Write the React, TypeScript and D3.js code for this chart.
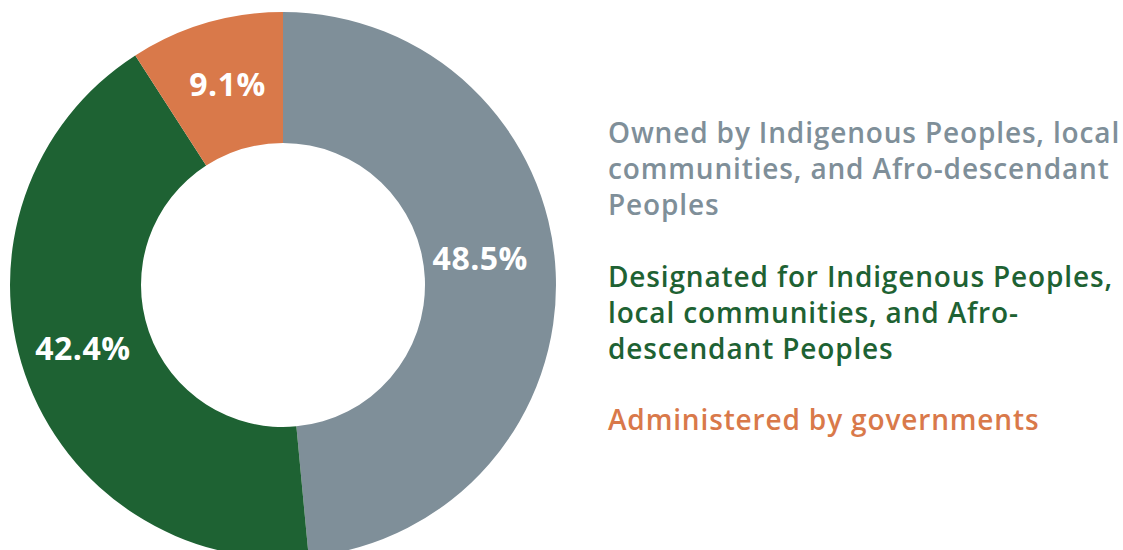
import { useEffect, useRef } from "react";
import * as d3 from "d3";

const categories = [
	["Owned by Indigenous Peoples, local", "communities, and Afro-descendant", "Peoples"],
	["Designated for Indigenous Peoples,", "local communities, and Afro-", "descendant Peoples"],
	["Administered by governments"],
];
const shares = [48.5, 42.4, 9.1];
const labels = ["48.5%", "42.4%", "9.1%"];
const colors = ["#7f8f99", "#1e6233", "#d9794a"];

export default function App() {
	const ref = useRef<SVGSVGElement>(null);

	useEffect(() => {
		const svg = d3.select(ref.current);
		svg.selectAll("*").remove();

		// Donut geometry
		const cx = 283;
		const cy = 285;
		const outer = 273;
		const inner = 142;

		const g = svg.append("g").attr("transform", `translate(${cx},${cy})`);

		const pie = d3.pie<number>().sort(null).value(d => d);
		const arcs = pie(shares);

		const arc = d3.arc<d3.PieArcDatum<number>>()
			.innerRadius(inner)
			.outerRadius(outer);

		g.selectAll(".slice")
			.data(arcs)
			.enter()
			.append("path")
			.attr("class", "slice")
			.attr("d", arc)
			.attr("fill", (_, i) => colors[i]);

		// Percent labels near slice centroids (small nudges to match layout)
		const nudge = [[-10, -17], [-4, -4], [3, -1]];
		g.selectAll(".pct")
			.data(arcs)
			.enter()
			.append("text")
			.attr("class", "pct")
			.attr("transform", (d, i) => {
				const [x, y] = arc.centroid(d);
				return `translate(${x + nudge[i][0]},${y + nudge[i][1]})`;
			})
			.attr("text-anchor", "middle")
			.attr("dy", "0.36em")
			.attr("fill", "#fff")
			.attr("font-family", "'Open Sans', sans-serif")
			.attr("font-weight", 700)
			.attr("font-size", "32px")
			.attr("letter-spacing", "0.5px")
			.text((_, i) => labels[i]);

		// Legend
		const legend = svg.append("g").attr("transform", "translate(608,0)");
		const lineH = 36;
		const starts = [143, 287, 430];

		categories.forEach((lines, i) => {
			const t = legend.append("text")
				.attr("fill", colors[i])
				.attr("font-family", "'Open Sans', sans-serif")
				.attr("font-weight", 600)
				.attr("font-size", "28px")
				.attr("letter-spacing", "0.85px");
			lines.forEach((line, j) => {
				t.append("tspan")
					.attr("x", 0)
					.attr("y", starts[i] + j * lineH)
					.text(line);
			});
		});
	}, []);

	return (
		<svg
			ref={ref}
			width={1123}
			height={550}
			style={{ position: "absolute", left: 0, top: 0, background: "#fff" }}
		/>
	);
}
